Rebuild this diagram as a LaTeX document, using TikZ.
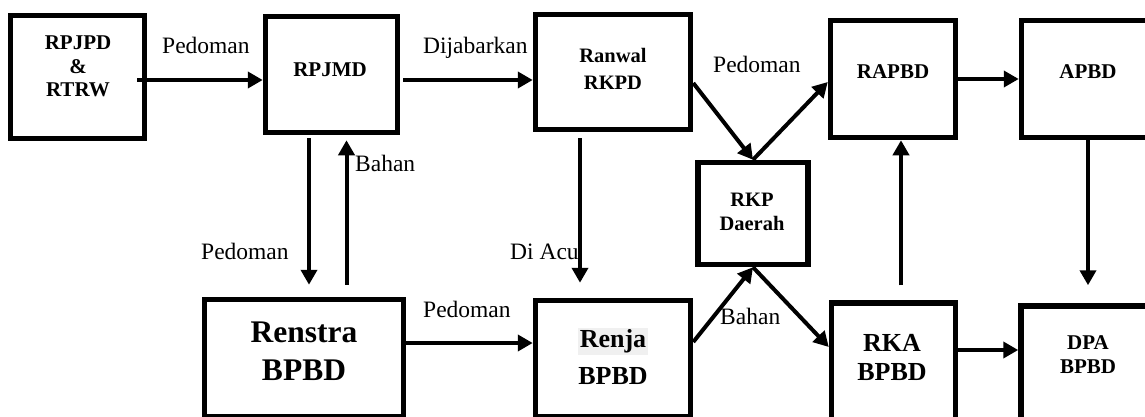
\documentclass[tikz,border=0pt]{standalone}
\usepackage{fontspec}
\setmainfont{Liberation Serif}
\usetikzlibrary{arrows.meta}
\definecolor{hl}{gray}{0.94}
\tikzset{
  box/.style={draw, line width=5.5pt, rectangle, inner sep=0pt},
  btext/.style={align=center, inner sep=0pt},
  lbl/.style={font=\fontsize{23.5}{28}\selectfont, inner sep=0pt, anchor=base west},
  arr/.style={line width=4pt, -{Triangle[length=15pt,width=16pt]}}
}
\begin{document}
\begin{tikzpicture}[x=1pt,y=-1pt]
\useasboundingbox (0,0) rectangle (1145,417);
\clip (0,0) rectangle (1145,417);
% boxes
\node[box, minimum width=134pt, minimum height=123pt] (rp) at (77.5,77) {};
\node[box, minimum width=132pt, minimum height=116pt] (rpjmd) at (331.5,74.5) {};
\node[box, minimum width=155pt, minimum height=115pt] (ranwal) at (613,72) {};
\node[box, minimum width=110pt, minimum height=102pt] (rkp) at (753,213.5) {};
\node[box, minimum width=125pt, minimum height=117pt] (rapbd) at (893,79) {};
\node[box, minimum width=133pt, minimum height=117pt] (apbd) at (1088,79) {};
\node[box, minimum width=199pt, minimum height=117pt] (renstra) at (304,358) {};
\node[box, minimum width=155pt, minimum height=116pt] (renja) at (613,358.5) {};
\node[box, minimum width=124pt, minimum height=116.5pt] (rka) at (893.5,361.25) {};
\node[box, minimum width=134pt, minimum height=116pt] (dpa) at (1088,364) {};
% box texts
\node[btext, font=\bfseries\fontsize{21}{23.5}\selectfont] (rpt) at (78,66.5) {RPJPD\\\&\\RTRW};
\node[btext, font=\bfseries\fontsize{21}{24}\selectfont] (rpjmdt) at (330,70) {RPJMD};
\node[btext, font=\bfseries\fontsize{20.5}{27}\selectfont] (ranwalt) at (613,68.5) {Ranwal\\RKPD};
\node[btext, font=\bfseries\fontsize{20.5}{24}\selectfont] (rkpt) at (752,212) {RKP\\Daerah};
\node[btext, font=\bfseries\fontsize{21}{24}\selectfont] (rapbdt) at (893,72) {RAPBD};
\node[btext, font=\bfseries\fontsize{21}{24}\selectfont] (apbdt) at (1088,72) {APBD};
\node[btext, font=\bfseries\fontsize{31.5}{38}\selectfont] (renstrat) at (304,351) {Renstra\\BPBD};
\node[btext, font=\bfseries\fontsize{26}{37}\selectfont] (renjat) at (613,356.5) {{\setlength\fboxsep{1.5pt}\colorbox{hl}{Renja}}\\BPBD};
\node[btext, font=\bfseries\fontsize{26}{29}\selectfont] (rkat) at (892,357.5) {RKA\\BPBD};
\node[btext, font=\bfseries\fontsize{21}{24}\selectfont] (dpat) at (1088,355) {DPA\\BPBD};
% labels
\node[lbl] (l1) at (162,54) {Pedoman};
\node[lbl] (l2) at (423,54) {Dijabarkan};
\node[lbl] (l3) at (713,73) {Pedoman};
\node[lbl] (l4) at (355,171) {Bahan};
\node[lbl] (l5) at (201,259) {Pedoman};
\node[lbl] (l6) at (510,259) {Di Acu};
\node[lbl] (l7) at (423,317) {Pedoman};
\node[lbl] (l8) at (720,324) {Bahan};
% connectors
\draw[arr] ([xshift=-10pt,yshift=-3pt]rp.east) -- ([yshift=-5.5pt]rpjmd.west);
\draw[arr] ([xshift=3pt,yshift=-5.5pt]rpjmd.east) -- ([yshift=-8pt]ranwal.west);
\draw[arr] ([yshift=-11pt]ranwal.east) -- (rkp.north);
\draw[arr] (rkp.north) -- ([yshift=-3pt]rapbd.west);
\draw[arr] (rapbd.east) -- (apbd.west);
\draw[arr] (apbd.south) -- ([yshift=18pt]dpa.north);
\draw[arr] ([yshift=11.25pt]rka.east) -- ([yshift=14pt]dpa.west);
\draw[arr] ([xshift=7.5pt,yshift=15pt]rka.north) -- ([xshift=8pt]rapbd.south);
\draw[arr] (rkp.south) -- ([yshift=14.25pt]rka.west);
\draw[arr] ([yshift=16.5pt]renja.east) -- (rkp.south);
\draw[arr] ([xshift=-33pt,yshift=-6pt]ranwal.south) -- ([xshift=-33pt,yshift=15pt]renja.north);
\draw[arr] ([yshift=15pt]renstra.east) -- ([yshift=15.5pt]renja.west);
\draw[arr] ([xshift=-22.5pt,yshift=-3pt]rpjmd.south) -- ([xshift=5pt,yshift=12pt]renstra.north);
\draw[arr] ([xshift=42.5pt,yshift=12pt]renstra.north) -- ([xshift=15pt,yshift=-5pt]rpjmd.south);
\end{tikzpicture}
\end{document}
